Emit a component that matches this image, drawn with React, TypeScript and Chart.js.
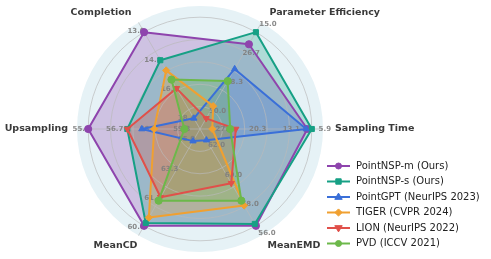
import React, { useEffect, useRef } from "react";
import { Chart, registerables } from "chart.js";

Chart.register(...registerables);

// Axes in clockwise drawing order, starting at the right (3 o'clock)
const axisNames = ["Sampling Time", "MeanEMD", "MeanCD", "Upsampling", "Completion", "Parameter Efficiency"];

// Normalised scores (0..1) per axis, same order as axisNames
const pointNSPm = [0.96, 1.0, 1.0, 1.0, 1.0, 0.875];
const pointNSPs = [1.0, 0.98, 0.97, 0.65, 0.71, 1.0];
const pointGPT = [0.95, 0.115, 0.125, 0.52, 0.11, 0.62];
const tiger = [0.11, 0.79, 0.915, 0.41, 0.605, 0.236];
const lion = [0.32, 0.56, 0.705, 0.65, 0.42, 0.11];
const pvd = [0.27, 0.74, 0.74, 0.14, 0.51, 0.495];

const seriesNames = [
  "PointNSP-m (Ours)",
  "PointNSP-s (Ours)",
  "PointGPT (NeurIPS 2023)",
  "TIGER (CVPR 2024)",
  "LION (NeurIPS 2022)",
  "PVD (ICCV 2021)",
];
const seriesValues = [pointNSPm, pointNSPs, pointGPT, tiger, lion, pvd];

// Per-axis tick labels, placed at the radii in tickRadii
const tickRadii = [1.0, 0.7, 0.4, 0.1];
const samplingTicks = ["5.9", "13.1", "20.3", "27.5"];
const meanEMDTicks = ["56.0", "58.0", "60.0", "62.0"];
const meanCDTicks = ["60.0", "61.7", "63.3", "65.0"];
const upsamplingTicks = ["55.4", "56.7", "58.0", "59.3"];
const completionTicks = ["13.0", "14.8", "16.6", "18.4"];
const paramTicks = ["15.0", "26.7", "38.3", "50.0"];
const axisTicks = [samplingTicks, meanEMDTicks, meanCDTicks, upsamplingTicks, completionTicks, paramTicks];

const gridValues = [0.2, 0.4, 0.6, 0.8, 1.0];

// styles
const colors = ["#8e44ad", "#16a085", "#3a6fd8", "#f0a030", "#e0504a", "#6cb84a"];
const pointStyles: any[] = ["circle", "rect", "triangle", "rectRot", "triangle", "circle"];
const pointRotations = [0, 0, 0, 0, 180, 0];
const tickOffsets = [[13, 0], [11, 7], [-8, 1], [-7, 0], [-8, -1], [12, -8]];
const nameOffsets = [[0, 0], [0, 0], [5, 0], [3, 0], [-1, 0], [2, 0]];
const FONT = "'DejaVu Sans', sans-serif";

function hexA(hex: string, a: number) {
  const n = parseInt(hex.slice(1), 16);
  return `rgba(${(n >> 16) & 255},${(n >> 8) & 255},${n & 255},${a})`;
}

function drawMarker(ctx: CanvasRenderingContext2D, style: string, x: number, y: number, r: number, rot: number) {
  ctx.save();
  ctx.translate(x, y);
  ctx.rotate((rot * Math.PI) / 180);
  ctx.beginPath();
  if (style === "circle") {
    ctx.arc(0, 0, r, 0, Math.PI * 2);
  } else if (style === "rect") {
    ctx.rect(-r * 0.9, -r * 0.9, r * 1.8, r * 1.8);
  } else if (style === "rectRot") {
    ctx.moveTo(0, -r * 1.2);
    ctx.lineTo(r * 1.2, 0);
    ctx.lineTo(0, r * 1.2);
    ctx.lineTo(-r * 1.2, 0);
    ctx.closePath();
  } else if (style === "triangle") {
    const h = r * 1.3;
    ctx.moveTo(0, -h);
    ctx.lineTo(h * 0.95, h * 0.6);
    ctx.lineTo(-h * 0.95, h * 0.6);
    ctx.closePath();
  }
  ctx.fill();
  ctx.stroke();
  ctx.restore();
}

const radarPlugin = {
  id: "radarDecor",
  beforeDraw(chart: any) {
    const s = chart.scales.r;
    const ctx = chart.ctx;
    ctx.save();
    ctx.fillStyle = "#e6f2f6";
    ctx.beginPath();
    ctx.arc(s.xCenter, s.yCenter, s.drawingArea, 0, Math.PI * 2);
    ctx.fill();
    ctx.restore();
  },
  beforeDatasetDraw(chart: any, args: any) {
    if (args.index !== seriesNames.length) return;
    const s = chart.scales.r;
    const ctx = chart.ctx;
    ctx.save();
    ctx.strokeStyle = "rgba(185,185,185,0.85)";
    ctx.lineWidth = 0.8;
    gridValues.forEach((v) => {
      ctx.beginPath();
      ctx.arc(s.xCenter, s.yCenter, s.getDistanceFromCenterForValue(v), 0, Math.PI * 2);
      ctx.stroke();
    });
    axisNames.forEach((_, i) => {
      const p = s.getPointPosition(i, s.drawingArea);
      ctx.beginPath();
      ctx.moveTo(s.xCenter, s.yCenter);
      ctx.lineTo(p.x, p.y);
      ctx.stroke();
    });
    // tick labels
    ctx.font = `bold 7px ${FONT}`;
    ctx.fillStyle = "rgba(125,125,125,0.9)";
    ctx.textAlign = "center";
    ctx.textBaseline = "middle";
    axisTicks.forEach((labels, i) => {
      labels.forEach((t, j) => {
        const p = s.getPointPosition(i, s.getDistanceFromCenterForValue(tickRadii[j]));
        ctx.fillText(t, p.x + tickOffsets[i][0], p.y + tickOffsets[i][1]);
      });
    });
    ctx.restore();
  },
  afterDraw(chart: any) {
    const s = chart.scales.r;
    const ctx = chart.ctx;
    ctx.save();
    // axis names
    ctx.font = `bold 9.5px ${FONT}`;
    ctx.fillStyle = "#3a3a3a";
    ctx.textBaseline = "middle";
    axisNames.forEach((name, i) => {
      const p = s.getPointPosition(i, s.drawingArea + 12);
      const dx = p.x - s.xCenter;
      ctx.textAlign = Math.abs(dx) < 1 ? "center" : dx > 0 ? "left" : "right";
      ctx.fillText(name, p.x + nameOffsets[i][0], p.y + nameOffsets[i][1]);
    });
    // legend
    const lx = 327;
    const ly = 166;
    const step = 15.5;
    ctx.font = `10px ${FONT}`;
    ctx.textAlign = "left";
    seriesNames.forEach((name, i) => {
      const y = ly + i * step;
      ctx.strokeStyle = colors[i];
      ctx.lineWidth = 2;
      ctx.beginPath();
      ctx.moveTo(lx, y);
      ctx.lineTo(lx + 23, y);
      ctx.stroke();
      ctx.fillStyle = colors[i];
      ctx.lineWidth = 1;
      drawMarker(ctx, pointStyles[i], lx + 11.5, y, 3, pointRotations[i]);
      ctx.fillStyle = "#222";
      ctx.fillText(name, lx + 29, y);
    });
    ctx.restore();
  },
};

export default function App() {
  const ref = useRef<HTMLCanvasElement>(null);
  useEffect(() => {
    if (!ref.current) return;
    const n = seriesNames.length;
    const fillSets = seriesValues.map((vals, i) => ({
      label: seriesNames[i] + " fill",
      data: vals,
      fill: "origin",
      backgroundColor: hexA(colors[i], 0.27),
      borderWidth: 0,
      borderColor: "rgba(0,0,0,0)",
      pointRadius: 0,
      order: 100 + (n - i),
    }));
    const lineSets = seriesValues.map((vals, i) => ({
      label: seriesNames[i],
      data: vals,
      fill: false,
      borderColor: colors[i],
      backgroundColor: colors[i],
      borderWidth: 2,
      borderJoinStyle: "round",
      pointStyle: pointStyles[i],
      pointRotation: pointRotations[i],
      pointRadius: 3.6,
      pointBackgroundColor: colors[i],
      pointBorderColor: colors[i],
      pointBorderWidth: 1,
      order: n - i,
    }));
    const chart = new Chart(ref.current, {
      type: "radar",
      data: { labels: axisNames, datasets: [...fillSets, ...lineSets] as any },
      options: {
        responsive: false,
        animation: false,
        layout: { padding: { left: 77, right: 168, top: 6, bottom: 7 } },
        plugins: { legend: { display: false }, tooltip: { enabled: false } },
        scales: {
          r: {
            startAngle: 90,
            min: 0,
            max: 1.1,
            ticks: { display: false, stepSize: 0.2 },
            grid: { display: false },
            angleLines: { display: false },
            pointLabels: { display: false },
          },
        },
      },
      plugins: [radarPlugin],
    });
    return () => chart.destroy();
  }, []);
  return (
    <div style={{ position: "absolute", left: 0, top: 0, width: 491, height: 259, background: "#fff" }}>
      <canvas ref={ref} width={491} height={259} />
    </div>
  );
}
